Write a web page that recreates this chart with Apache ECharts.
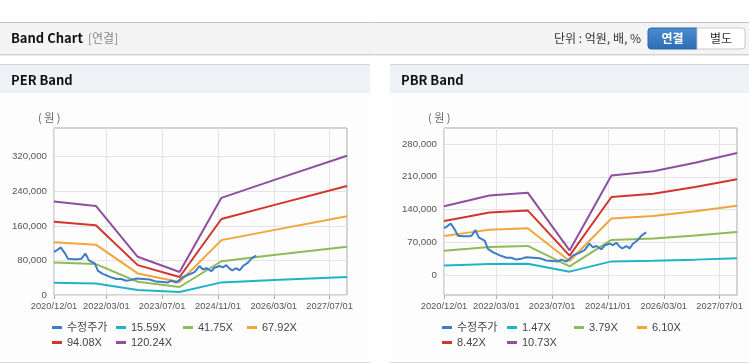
<!DOCTYPE html>
<html><head><meta charset="utf-8">
<script src="https://cdn.jsdelivr.net/npm/echarts@6/dist/echarts.min.js"></script>
<style>html,body{margin:0;padding:0;background:#fff;}#c{width:749px;height:364px;}</style>
</head><body><div id="c"></div>
<script>
// ---- data ----
const xTickMonths = [0, 15, 31, 47, 63, 79];            // months since 2020/12/01
const xTickLabels = ['2020/12/01','2022/03/01','2023/07/01','2024/11/01','2026/03/01','2027/07/01'];
const perYTicks = [0, 80000, 160000, 240000, 320000];
const pbrYTicks = [0, 70000, 140000, 210000, 280000];

const priceMonths = [0, 0.9, 1.9, 3.1, 4.0, 5.5, 7.0, 7.9, 9.0, 10.0, 11.0, 11.7, 12.6, 14.0, 16.0, 17.9, 19.3, 20.7, 22.2, 23.6, 25.5, 27.4, 29.3, 31.2, 32.7, 33.6, 35.1, 36.0, 37.0, 38.9, 40.3, 41.7, 42.7, 43.7, 45.1, 46.0, 47.5, 48.4, 49.4, 50.3, 51.1, 52.3, 53.2, 54.2, 55.6, 56.6, 57.5, 58.0];
const priceValues = [100000, 104000, 110000, 97000, 84000, 83000, 83000, 84000, 96000, 80000, 76000, 73000, 56000, 49000, 42000, 37000, 37000, 33000, 35000, 38000, 37000, 36000, 31000, 30000, 29000, 33000, 29000, 35000, 42000, 48000, 53000, 67000, 59000, 62000, 55000, 63000, 67000, 64000, 69000, 61000, 57000, 62000, 57000, 67000, 75000, 84000, 89000, 91000];

const perNames = ['15.59X', '41.75X', '67.92X', '94.08X', '120.24X'];
const perMonths = [0, 12, 24, 36, 48, 63, 84];
const per1559 = [28100, 26700, 11500, 6900, 29200, 34500, 41800];
const per4175 = [75200, 71600, 30700, 18500, 78100, 92300, 111900];
const per6792 = [122300, 116500, 49900, 30100, 127000, 150100, 182000];
const per9408 = [169300, 161300, 69100, 41700, 175900, 207900, 252100];
const per12024 = [216400, 206200, 88400, 53300, 224800, 265700, 322200];

const pbrNames = ['1.47X', '3.79X', '6.10X', '8.42X', '10.73X'];
const pbrMonths = [0, 7, 13, 24, 36, 48, 60, 72, 84];
const pbr147 = [20100, 21800, 23300, 24100, 7200, 29100, 30400, 32900, 35700];
const pbr379 = [51900, 56300, 60100, 62200, 18600, 75000, 78300, 84700, 92100];
const pbr610 = [83600, 90600, 96700, 100000, 29900, 120800, 126000, 136300, 148200];
const pbr842 = [115400, 125000, 133500, 138100, 41300, 166700, 173900, 188200, 204600];
const pbr1073 = [147000, 159300, 170100, 176000, 52600, 212500, 221600, 239800, 260700];

// ---- style ----
const colors = ['#3d7cc6', '#1fb3c8', '#8fba56', '#f2a53b', '#d1352c', '#8e4f9e'];
const FONT = "'Liberation Sans','Noto Sans CJK KR',sans-serif";
const KFONT = "'Noto Sans CJK KR','Liberation Sans',sans-serif";

function pairs(xs, ys) { return xs.map((x, i) => [x, ys[i]]); }
function fmt(v) { return Math.round(v).toLocaleString('en-US'); }

function xAxis(gi) {
  return {
    type: 'value', gridIndex: gi, min: 0, max: 84,
    axisLine: { show: false, onZero: false },
    axisTick: { show: true, customValues: xTickMonths, length: 4, lineStyle: { color: '#aaaaaa' } },
    axisLabel: { customValues: xTickMonths, margin: 7, fontSize: 9.3, color: '#555', fontFamily: FONT,
      formatter: v => xTickLabels[xTickMonths.indexOf(v)] || '' },
    splitLine: { show: true, lineStyle: { color: '#e4e4e4', width: 1 } }
  };
}
function yAxis(gi, min, max, ticks) {
  return {
    type: 'value', gridIndex: gi, min: min, max: max,
    axisLine: { show: false },
    axisTick: { show: false, customValues: ticks },
    axisLabel: { customValues: ticks, margin: 7, fontSize: 9.7, color: '#555', fontFamily: FONT, formatter: fmt },
    splitLine: { show: true, lineStyle: { color: '#e4e4e4', width: 1 } }
  };
}
function line(name, data, ci, gi) {
  return { type: 'line', name: name, data: data, xAxisIndex: gi, yAxisIndex: gi,
    showSymbol: false, symbol: 'none', lineStyle: { width: 2, color: colors[ci] }, itemStyle: { color: colors[ci] },
    z: ci === 0 ? 5 : 3, animation: false };
}
function legend(name, left, top) {
  return { data: [name], left: left, top: top, padding: 0, icon: 'rect', itemWidth: 10, itemHeight: 3,
    selectedMode: false, textStyle: { fontSize: 11, color: '#444', fontFamily: FONT } };
}

const g = [];
// top header bar
g.push({ type: 'rect', shape: { x: 0, y: 22, width: 749, height: 32 }, style: { fill: '#f4f4f4' }, silent: true });
g.push({ type: 'line', shape: { x1: 0, y1: 22.5, x2: 749, y2: 22.5 }, style: { stroke: '#c4c4c4', lineWidth: 1 } });
g.push({ type: 'line', shape: { x1: 0, y1: 54.5, x2: 749, y2: 54.5 }, style: { stroke: '#d2d2d2', lineWidth: 1 } });
g.push({ type: 'line', shape: { x1: 0, y1: 55.5, x2: 749, y2: 55.5 }, style: { stroke: '#ececec', lineWidth: 1 } });
g.push({ type: 'text', style: { text: 'Band Chart', x: 11, y: 38, verticalAlign: 'middle', fontSize: 13, fontWeight: 'bold', fontFamily: KFONT, fill: '#111' } });
g.push({ type: 'text', style: { text: '[연결]', x: 88, y: 38, verticalAlign: 'middle', fontSize: 12, fontFamily: KFONT, fill: '#888' } });
g.push({ type: 'text', style: { text: '단위 : 억원, 배, %', x: 641, y: 38, align: 'right', verticalAlign: 'middle', fontSize: 12, fontFamily: KFONT, fill: '#333' } });
g.push({ type: 'rect', shape: { x: 648, y: 28, width: 49, height: 21, r: [3, 0, 0, 3] },
  style: { fill: new echarts.graphic.LinearGradient(0, 0, 0, 1, [{ offset: 0, color: '#4b8ccf' }, { offset: 1, color: '#2f6cb3' }]), stroke: '#2c66aa' } });
g.push({ type: 'text', style: { text: '연결', x: 672.5, y: 38.5, align: 'center', verticalAlign: 'middle', fontSize: 12, fontWeight: 'bold', fontFamily: KFONT, fill: '#fff' } });
g.push({ type: 'rect', shape: { x: 697, y: 28, width: 48, height: 21, r: [0, 3, 3, 0] }, style: { fill: '#fff', stroke: '#c8c8c8' } });
g.push({ type: 'text', style: { text: '별도', x: 721, y: 38.5, align: 'center', verticalAlign: 'middle', fontSize: 12, fontFamily: KFONT, fill: '#333' } });
// panels
[[0, 370, 'PER Band'], [390, 359, 'PBR Band']].forEach(([px, pw, t]) => {
  g.push({ type: 'rect', shape: { x: px, y: 93, width: pw, height: 269 }, style: { fill: '#fdfdfd' }, silent: true, z: -1 });
  g.push({ type: 'rect', shape: { x: px, y: 64, width: pw, height: 29 }, style: { fill: '#eef2f7' }, silent: true });
  g.push({ type: 'line', shape: { x1: px, y1: 64.5, x2: px + pw, y2: 64.5 }, style: { stroke: '#d6d6d6', lineWidth: 1 } });
  g.push({ type: 'line', shape: { x1: px, y1: 362.5, x2: px + pw, y2: 362.5 }, style: { stroke: '#dadada', lineWidth: 1 } });
  g.push({ type: 'text', style: { text: t, x: px + 11, y: 80, verticalAlign: 'middle', fontSize: 13, fontWeight: 'bold', fontFamily: KFONT, fill: '#111' } });
});
g.push({ type: 'text', style: { text: '( 원 )', x: 38, y: 118, verticalAlign: 'middle', fontSize: 11, fontFamily: KFONT, fill: '#666' } });
g.push({ type: 'text', style: { text: '( 원 )', x: 428, y: 118, verticalAlign: 'middle', fontSize: 11, fontFamily: KFONT, fill: '#666' } });

const series = [];
const perBands = [per1559, per4175, per6792, per9408, per12024];
const pbrBands = [pbr147, pbr379, pbr610, pbr842, pbr1073];
perBands.forEach((arr, i) => series.push(line(perNames[i], pairs(perMonths, arr), i + 1, 0)));
series.push(line('수정주가', pairs(priceMonths, priceValues), 0, 0));
pbrBands.forEach((arr, i) => series.push(line(pbrNames[i], pairs(pbrMonths, arr), i + 1, 1)));
series.push(line('수정주가', pairs(priceMonths, priceValues), 0, 1));

const legends = [
  legend('수정주가', 52, 322), legend(perNames[0], 116, 322), legend(perNames[1], 183, 322), legend(perNames[2], 247, 322),
  legend(perNames[3], 52, 337), legend(perNames[4], 116, 337),
  legend('수정주가', 442, 322), legend(pbrNames[0], 507, 322), legend(pbrNames[1], 574, 322), legend(pbrNames[2], 637, 322),
  legend(pbrNames[3], 442, 337), legend(pbrNames[4], 507, 337)
];

const chart = echarts.init(document.getElementById('c'), null, { renderer: 'canvas' });
chart.setOption({
  animation: false,
  backgroundColor: '#ffffff',
  graphic: { elements: g },
  grid: [
    { left: 54, top: 128, width: 293, height: 167, show: true, borderColor: '#a9a9a9', borderWidth: 1, backgroundColor: 'transparent' },
    { left: 444, top: 128, width: 293, height: 167, show: true, borderColor: '#a9a9a9', borderWidth: 1, backgroundColor: 'transparent' }
  ],
  xAxis: [xAxis(0), xAxis(1)],
  yAxis: [yAxis(0, 0, 386400, perYTicks), yAxis(1, -42700, 314200, pbrYTicks)],
  legend: legends,
  series: series
});
</script></body></html>
